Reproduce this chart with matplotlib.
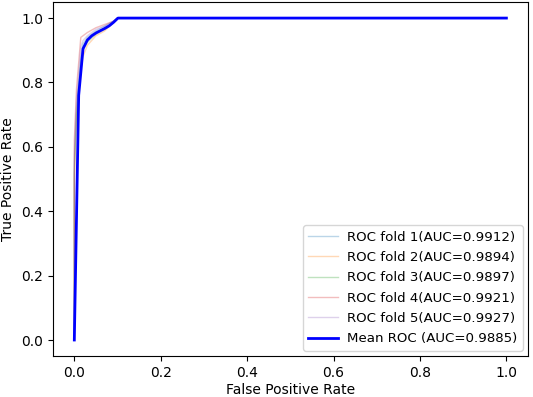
import matplotlib.pyplot as plt
import numpy as np

# Точки ROC-кривых по фолдам (оценены по картинке)
fpr_folds = [
    [0.0, 0.0, 0.005, 0.01, 0.015, 0.02, 0.03, 0.05, 0.07, 0.09, 0.1, 1.0],
    [0.0, 0.0, 0.005, 0.01, 0.015, 0.02, 0.03, 0.05, 0.07, 0.09, 0.1, 1.0],
    [0.0, 0.0, 0.005, 0.01, 0.015, 0.02, 0.03, 0.05, 0.07, 0.09, 0.1, 1.0],
    [0.0, 0.0, 0.005, 0.01, 0.015, 0.02, 0.03, 0.05, 0.07, 0.09, 0.1, 1.0],
    [0.0, 0.0, 0.005, 0.01, 0.015, 0.02, 0.03, 0.05, 0.07, 0.09, 0.1, 1.0],
]
tpr_folds = [
    [0.0, 0.55, 0.72, 0.80, 0.88, 0.92, 0.94, 0.96, 0.975, 0.99, 1.0, 1.0],
    [0.0, 0.50, 0.68, 0.76, 0.84, 0.88, 0.915, 0.945, 0.96, 0.985, 1.0, 1.0],
    [0.0, 0.52, 0.70, 0.78, 0.86, 0.90, 0.925, 0.95, 0.965, 0.985, 1.0, 1.0],
    [0.0, 0.62, 0.78, 0.86, 0.94, 0.945, 0.955, 0.97, 0.98, 0.99, 1.0, 1.0],
    [0.0, 0.58, 0.75, 0.83, 0.91, 0.93, 0.945, 0.965, 0.975, 0.99, 1.0, 1.0],
]
aucs = [0.9912, 0.9894, 0.9897, 0.9921, 0.9927]

mean_fpr = [0.0, 0.0101, 0.0202, 0.0303, 0.0404, 0.0505, 0.0606, 0.0707,
            0.0808, 0.0909, 0.101, 1.0]
mean_tpr = [0.0, 0.76, 0.905, 0.932, 0.945, 0.954, 0.961, 0.968,
            0.976, 0.987, 1.0, 1.0]
mean_auc = 0.9885

fig = plt.figure(figsize=(5.33, 3.97), dpi=100)
ax = fig.add_axes([0.0989, 0.103, 0.8917, 0.892])

for i in range(5):
    ax.plot(fpr_folds[i], tpr_folds[i], lw=1, alpha=0.3,
            label='ROC fold %d(AUC=%0.4f)' % (i + 1, aucs[i]))

ax.plot(mean_fpr, mean_tpr, color='b', lw=2,
        label='Mean ROC (AUC=%0.4f)' % mean_auc)

ax.set_xlim(-0.05, 1.05)
ax.set_ylim(-0.05, 1.05)
ax.set_xlabel('False Positive Rate', labelpad=2.5)
ax.set_ylabel('True Positive Rate')
ax.legend(loc='lower right', fontsize=9.6, handlelength=2.2,
          labelspacing=0.55, borderpad=0.4, handletextpad=0.7,
          borderaxespad=0.4)
fig.savefig('out.png', dpi=100)
